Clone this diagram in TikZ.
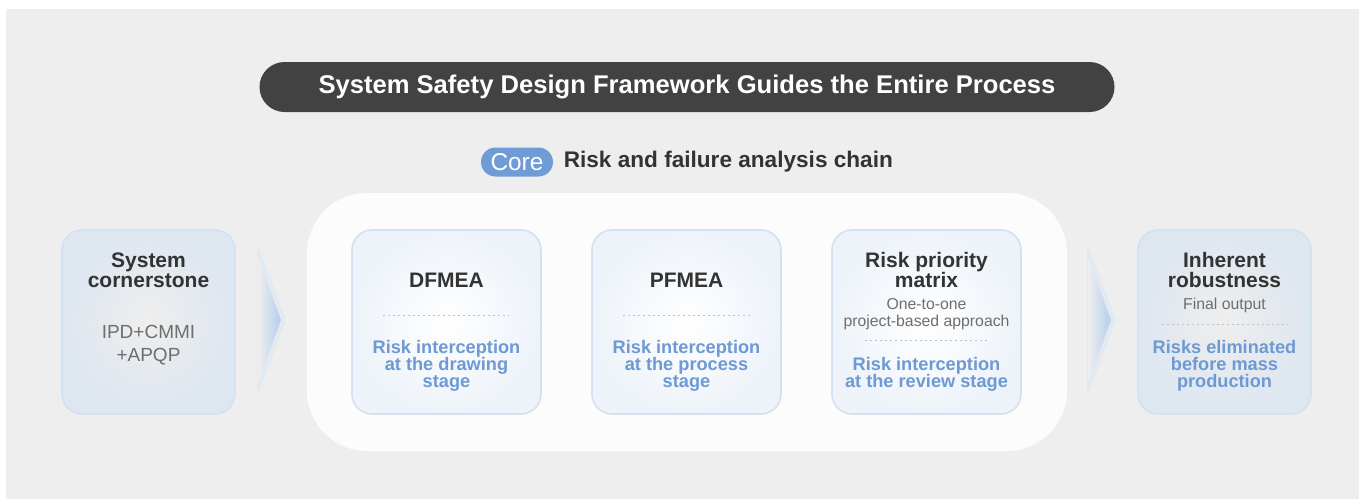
\documentclass[tikz,border=0pt]{standalone}
\usepackage{fontspec}
\setmainfont{Liberation Sans}
\usepackage{tikz}
\usetikzlibrary{positioning,calc}
\definecolor{bggray}{HTML}{EEEEEE}
\definecolor{panelwhite}{HTML}{FCFCFC}
\definecolor{pilldark}{HTML}{424242}
\definecolor{inkdark}{HTML}{333333}
\definecolor{inkgray}{HTML}{6E6E6E}
\definecolor{riskblue}{HTML}{6D99D4}
\definecolor{corepill}{HTML}{6F9BD6}
\definecolor{edgeblue}{HTML}{D3E1F1}
\definecolor{arrowblue}{HTML}{B3CFEC}
\definecolor{halo}{HTML}{DDE8F3}

\begin{document}
\begin{tikzpicture}[x=0.5pt,y=-0.5pt,
    card/.style={draw=edgeblue,line width=0.8pt,rounded corners=10pt,shading=radial,
        inner color=bggray,outer color=edgeblue!60!bggray,
        minimum width=86.5pt,minimum height=92pt},
    stage/.style={draw=edgeblue,line width=0.8pt,rounded corners=10pt,shading=radial,
        inner color=white,outer color=edgeblue!40!white,
        minimum width=94.5pt,minimum height=92pt},
    ttl/.style={align=center,text=inkdark,font=\fontsize{10.5}{10}\selectfont\bfseries,inner sep=0pt},
    sub/.style={align=center,text=inkgray,font=\fontsize{7.9}{8.5}\selectfont,inner sep=0pt},
    note/.style={align=center,text=riskblue,font=\fontsize{9.1}{8.6}\selectfont\bfseries,inner sep=0pt},
    sep/.style={draw=black!25,line width=0.5pt,dash pattern=on 1pt off 1.5pt}]
    % background and margins
    \fill[white] (0,0) rectangle (1359,499);
    \fill[bggray] (6,9) rectangle (1359,499);
    % headline
    \node[fill=pilldark,rounded corners=12.5pt,minimum width=427.5pt,minimum height=25pt,
        text=white,font=\fontsize{12.8}{14}\selectfont\bfseries] (banner) at (687,87)
        {System Safety Design Framework Guides the Entire Process};
    \node[fill=corepill,rounded corners=7.25pt,minimum width=36pt,minimum height=14.5pt,
        inner sep=0pt,text=white,font=\fontsize{12.2}{13}\selectfont] (core) at (517,162) {Core};
    \node[right=5pt of core,inner sep=0pt,text=inkdark,font=\fontsize{11.3}{13}\selectfont\bfseries]
        (chain) {Risk and failure analysis chain};
    % core panel
    \fill[panelwhite,rounded corners=30pt] (307,193) rectangle (1067,451);
    % chevrons
    \foreach \cx in {257,1087}{
      \fill[halo!70!bggray] (\cx,243) -- (\cx+29,320) -- (\cx,397) -- cycle;
      \shade[left color=bggray,right color=arrowblue] (\cx+1,258) -- (\cx+24,320) -- (\cx+1,382) -- cycle;
    }
    % boxes
    \node[card] (base) at (148.5,322) {};
    \node[stage] (dfmea) at (446.5,322) {};
    \node[stage] (pfmea) at (686.5,322) {};
    \node[stage] (rpm) at (926.5,322) {};
    \node[card] (robust) at (1224.5,322) {};
    % System cornerstone
    \node[ttl] (base-t) at (148.5,270) {System\\cornerstone};
    \node[sub,font=\fontsize{9.5}{11.5}\selectfont] (base-s) at (148.5,345) {IPD+CMMI\\+APQP};
    % DFMEA
    \node[ttl] (dfmea-t) at (446.5,280) {DFMEA};
    \draw[sep] (383,315) -- (509,315);
    \node[note] (dfmea-n) at (446.5,366) {Risk interception\\at the drawing\\stage};
    % PFMEA
    \node[ttl] (pfmea-t) at (686.5,280) {PFMEA};
    \draw[sep] (623,315) -- (750,315);
    \node[note] (pfmea-n) at (686.5,366) {Risk interception\\at the process\\stage};
    % Risk priority matrix
    \node[ttl] (rpm-t) at (926.5,270) {Risk priority\\matrix};
    \node[sub] (rpm-s) at (926.5,314) {One-to-one\\project-based approach};
    \draw[sep] (865,340) -- (990,340);
    \node[note] (rpm-n) at (926.5,374) {Risk interception\\at the review stage};
    % Inherent robustness
    \node[ttl] (robust-t) at (1224.5,270) {Inherent\\robustness};
    \node[sub] (robust-s) at (1224.5,305) {Final output};
    \draw[sep] (1162,324) -- (1288,324);
    \node[note] (robust-n) at (1224.5,366) {Risks eliminated\\before mass\\production};
\end{tikzpicture}
\end{document}
